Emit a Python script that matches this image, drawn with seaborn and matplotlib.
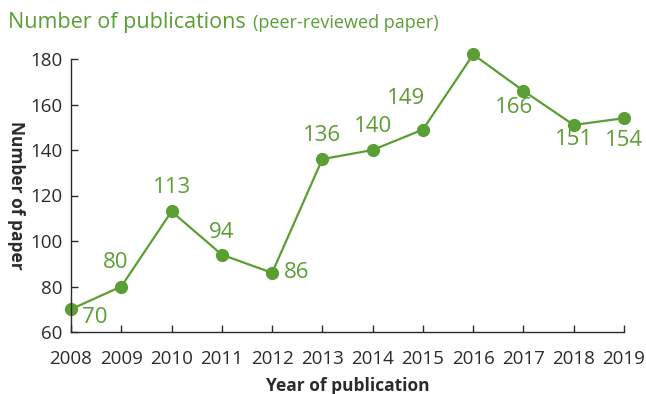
import matplotlib
matplotlib.use("Agg")
import matplotlib.pyplot as plt
import seaborn as sns
import pandas as pd

years = [2008, 2009, 2010, 2011, 2012, 2013, 2014, 2015, 2016, 2017, 2018, 2019]
papers = [70, 80, 113, 94, 86, 136, 140, 149, 182, 166, 151, 154]
yticks = [60, 80, 100, 120, 140, 160, 180]
# label offsets in pixels (dx, dy)
label_offsets = [(24, -8), (-6, 24), (0, 24), (0, 22), (25, 0), (0, 24),
                 (0, 24), (-17, 31), (0, 21), (-9, -17), (0, -15), (0, -22)]

sns.set_style("ticks")
plt.rcParams['font.family'] = ['Open Sans', 'DejaVu Sans']

GREEN = "#5a9e34"
DARK = "#2b2b2b"

df = pd.DataFrame({"year": years, "papers": papers})

fig = plt.figure(figsize=(6.46, 3.94), dpi=100)
ax = fig.add_axes([71/646, 1-332/394, (624-71)/646, (332-59)/394])

sns.lineplot(data=df, x="year", y="papers", ax=ax, color=GREEN, linewidth=1.6,
             marker="o", markersize=9.5, markeredgewidth=0, markerfacecolor=GREEN,
             clip_on=False)

for x, y, (dx, dy) in zip(years, papers, label_offsets):
    ax.annotate(str(y), (x, y), xytext=(dx, dy), textcoords="offset pixels",
                ha="center", va="center", color=GREEN, fontsize=16)

ax.set_xlim(2008, 2019)
ax.set_ylim(60, 180)
ax.set_xticks(years)
ax.set_xticklabels([str(y) for y in years])
ax.set_yticks(yticks)
ax.tick_params(axis="both", direction="in", length=5, width=1, color=DARK,
               labelsize=13.5, labelcolor=DARK)
ax.tick_params(axis="x", pad=13)
ax.tick_params(axis="y", pad=6)
for s in ["top", "right"]:
    ax.spines[s].set_visible(False)
for s in ["left", "bottom"]:
    ax.spines[s].set_color(DARK)
    ax.spines[s].set_linewidth(1)

ax.set_xlabel("Year of publication", fontsize=12.5, fontweight="bold", color=DARK)
ax.xaxis.set_label_coords(0.5, -0.165)
ax.set_ylabel("Number of paper", fontsize=12.5, fontweight="bold", color=DARK,
              rotation=-90, labelpad=17)

t1 = fig.text(8/646, 1-28/394, "Number of publications", fontsize=15.5, color=GREEN,
              ha="left", va="baseline")
fig.canvas.draw()
bb = t1.get_window_extent()
fig.text((bb.x1 + 7)/646, 1-28/394, "(peer-reviewed paper)", fontsize=13,
         color=GREEN, ha="left", va="baseline")

fig.savefig("out.png", dpi=100)
